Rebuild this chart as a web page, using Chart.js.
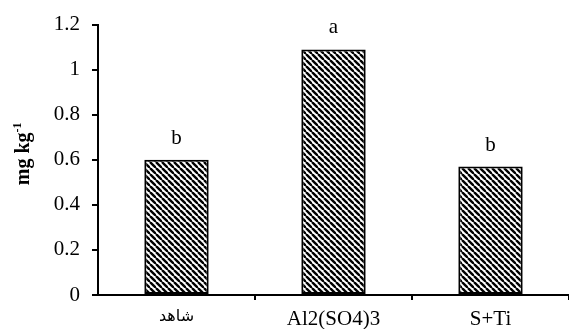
<!DOCTYPE html>
<html>
<head>
<meta charset="utf-8">
<script src="https://cdn.jsdelivr.net/npm/chart.js@4"></script>
<style>
  html, body { margin: 0; padding: 0; background: #fff; }
  #wrap { width: 569px; height: 329px; }
</style>
</head>
<body>
<div id="wrap"><canvas id="myChart" width="569" height="329"></canvas></div>
<script>
// data
const categories = ['شاهد', 'Al2(SO4)3', 'S+Ti'];
const values = [0.6, 1.09, 0.57];
const letters = ['b', 'a', 'b'];
const yTickLabels = ['0', '0.2', '0.4', '0.6', '0.8', '1', '1.2'];
const yTitle = 'mg kg';
const yTitleSup = '-1';

const serif = "'Liberation Serif', 'Times New Roman', serif";
const arabicFont = "'Liberation Sans', 'DejaVu Sans', sans-serif";

// hatch pattern (backslash stripes)
function makeHatch() {
  const s = 6;
  const c = document.createElement('canvas');
  c.width = s; c.height = s;
  const g = c.getContext('2d');
  g.fillStyle = '#fff';
  g.fillRect(0, 0, s, s);
  g.strokeStyle = '#000';
  g.lineWidth = 2.4;
  for (let k = -1; k <= 1; k++) {
    g.beginPath();
    g.moveTo(k * s, 0);
    g.lineTo(k * s + s, s);
    g.stroke();
  }
  return g.createPattern(c, 'repeat');
}

// letters above bars + y title with superscript
const letterPlugin = {
  id: 'letters',
  afterDatasetsDraw(chart) {
    const g = chart.ctx;
    const meta = chart.getDatasetMeta(0);
    g.save();
    g.font = '21px ' + serif;
    g.fillStyle = '#000';
    g.textAlign = 'center';
    g.textBaseline = 'alphabetic';
    meta.data.forEach((bar, i) => {
      g.fillText(letters[i], bar.x, bar.y - 16);
    });
    g.restore();

    // y axis title
    const area = chart.chartArea;
    g.save();
    g.translate(29, (area.top + area.bottom) / 2 - 6);
    g.rotate(-Math.PI / 2);
    g.fillStyle = '#000';
    g.textBaseline = 'alphabetic';
    g.textAlign = 'left';
    g.font = 'bold 20px ' + serif;
    const w1 = g.measureText(yTitle).width;
    g.font = 'bold 12px ' + serif;
    const w2 = g.measureText(yTitleSup).width;
    const x0 = -(w1 + w2) / 2;
    g.font = 'bold 20px ' + serif;
    g.fillText(yTitle, x0, 0);
    g.font = 'bold 12px ' + serif;
    g.fillText(yTitleSup, x0 + w1, -8);
    g.restore();
  }
};

const ctx = document.getElementById('myChart').getContext('2d');
const hatch = makeHatch();

new Chart(ctx, {
  type: 'bar',
  data: {
    labels: categories,
    datasets: [{
      data: values,
      backgroundColor: hatch,
      borderColor: '#000',
      borderWidth: 2,
      borderSkipped: false,
      categoryPercentage: 1,
      barPercentage: 0.41
    }]
  },
  options: {
    responsive: false,
    animation: false,
    layout: { padding: { top: 22, right: 0, left: 0, bottom: 0 } },
    plugins: {
      legend: { display: false },
      tooltip: { enabled: false }
    },
    scales: {
      x: {
        afterFit(scale) { scale.height = 34; },
        border: { color: '#000', width: 2 },
        grid: {
          drawOnChartArea: false,
          tickLength: 5,
          lineWidth: 2,
          color: (c) => (c.index === 0 || c.index >= 3) ? 'rgba(0,0,0,0)' : '#000'
        },
        ticks: {
          color: '#000',
          font: (c) => c.index === 0
            ? { family: arabicFont, size: 16 }
            : { family: serif, size: 21 },
          padding: 7
        }
      },
      y: {
        min: 0,
        max: 1.2,
        afterFit(scale) { scale.width = 98; },
        border: { color: '#000', width: 2 },
        grid: {
          drawOnChartArea: false,
          tickLength: 6,
          lineWidth: 2,
          color: '#000'
        },
        ticks: {
          stepSize: 0.2,
          color: '#000',
          font: { family: serif, size: 21 },
          padding: 12,
          callback: (v, i) => yTickLabels[i]
        }
      }
    }
  },
  plugins: [letterPlugin]
});
</script>
</body>
</html>
